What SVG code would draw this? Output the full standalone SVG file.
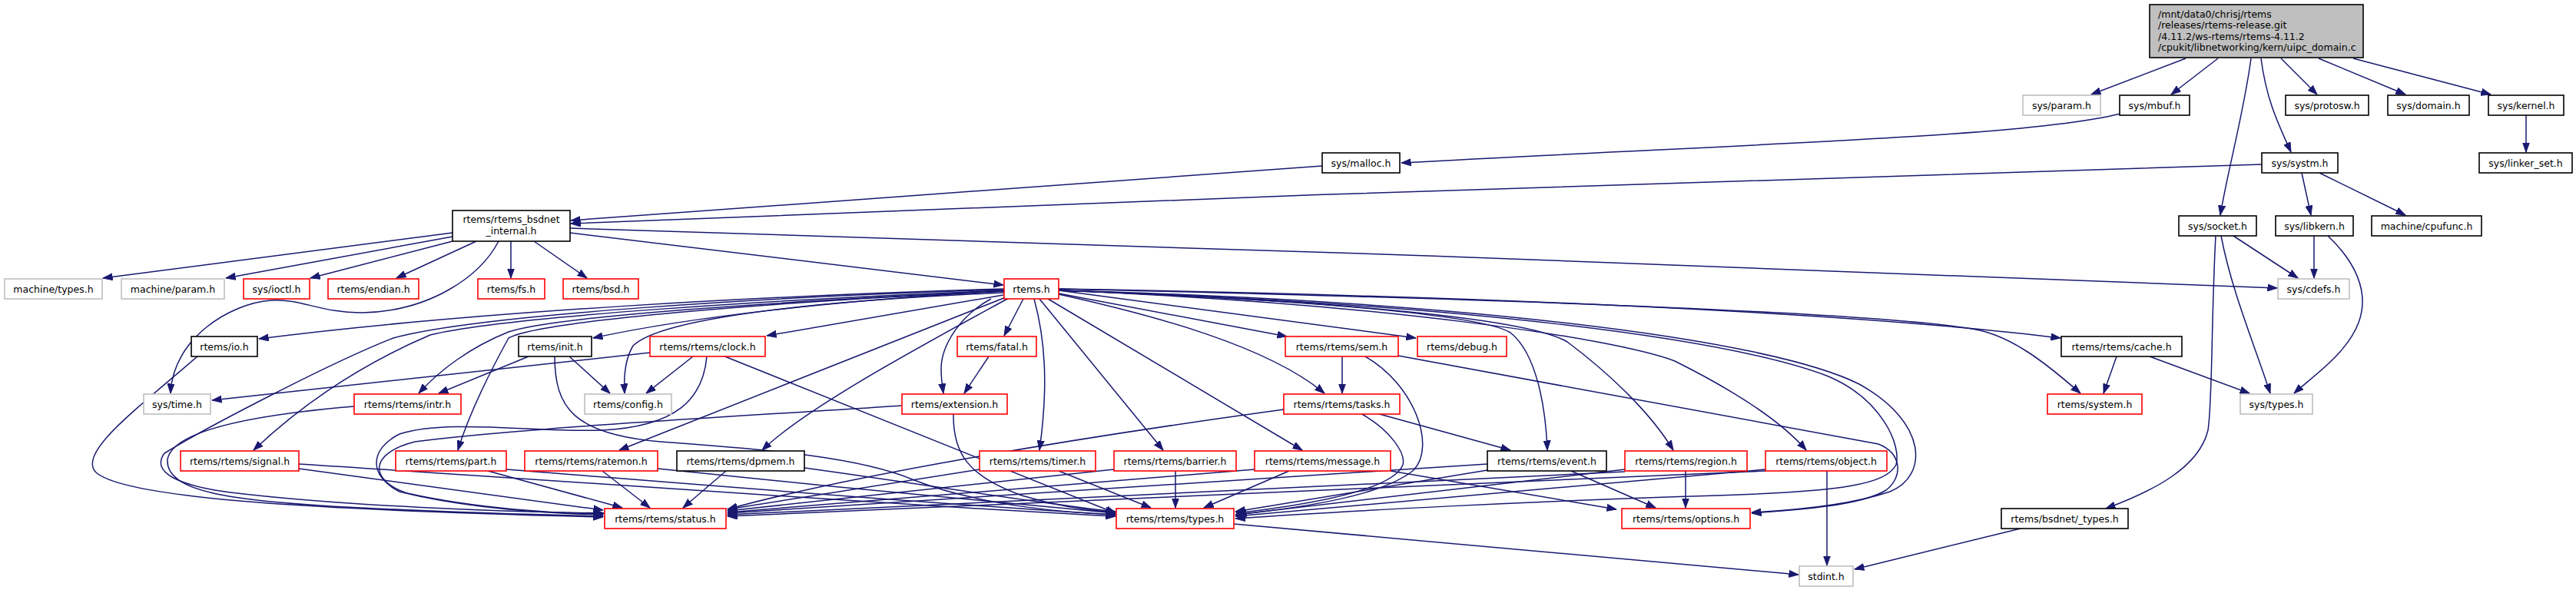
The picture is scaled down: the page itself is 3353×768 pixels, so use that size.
<svg xmlns="http://www.w3.org/2000/svg" width="3353" height="768" viewBox="0 0 3353 768">
<style>
rect{stroke-width:1.6}
.n rect{fill:#fff;stroke:#000}
.g rect{fill:#fff;stroke:#bfbfbf}
.r rect{fill:#fff;stroke:#ff0000}
.root rect{fill:#bfbfbf;stroke:#000}
text{font-family:"DejaVu Sans","Liberation Sans",sans-serif;font-size:12.5px;fill:#000;text-anchor:middle}
.root text{text-anchor:start}
#edges path{fill:none;stroke:#191970;stroke-width:1.5;marker-end:url(#ah)}
</style>
<defs>
<marker id="ah" markerUnits="userSpaceOnUse" markerWidth="13" markerHeight="10" viewBox="0 0 13 10" refX="12.5" refY="5" orient="auto">
<path d="M0,0.5 L12.5,5 L0,9.5 z" fill="#191970" stroke="#191970" stroke-width="1"/>
</marker>
</defs>
<rect width="3353" height="768" fill="#fff"/>
<g id="edges">
<path d="M2845,76 L2722,123"/>
<path d="M2887,76 L2826,123"/>
<path d="M2930,76 C2920,150 2900,220 2890,280"/>
<path d="M2943,76 C2950,130 2965,160 2982,198"/>
<path d="M2969,76 L3016,123"/>
<path d="M3018,76 L3131,123"/>
<path d="M3063,76 L3242,123"/>
<path d="M3288,150 L3288,198"/>
<path d="M2760,148 C2640,178 2300,186 1824,212"/>
<path d="M1721,216 L743,287"/>
<path d="M2944,214 C2400,230 1400,262 743,291"/>
<path d="M2996,225 L3008,280"/>
<path d="M3019,225 L3131,280"/>
<path d="M2907,307 L2991,362"/>
<path d="M3012,307 L3012,362"/>
<path d="M2891,307 C2905,380 2935,450 2955,512"/>
<path d="M3030,307 C3065,340 3085,380 3070,420 C3055,460 3010,490 2986,512"/>
<path d="M2884,307 C2878,420 2880,520 2874,560 C2862,610 2800,640 2741,662"/>
<path d="M2634,687 L2414,741"/>
<path d="M1606,682 L2341,748"/>
<path d="M2378,613 L2378,736"/>
<path d="M589,303 L134,362"/>
<path d="M589,308 L294,362"/>
<path d="M589,314 L404,362"/>
<path d="M620,314 L516,362"/>
<path d="M649,314 C625,360 560,405 472,407 C420,408 390,388 352,391 C300,395 225,440 222,512"/>
<path d="M665,314 L665,362"/>
<path d="M695,314 L764,362"/>
<path d="M742,303 L1306,371"/>
<path d="M742,297 C1400,318 2300,345 2964,375"/>
<path d="M1307,376 C1000,385 620,405 337,441"/>
<path d="M1307,379 C1100,390 900,412 772,440"/>
<path d="M1306,384 L998,437"/>
<path d="M1307,381 C1050,392 860,415 824,450 C812,470 812,495 813,512"/>
<path d="M1307,379 C1000,393 720,412 662,432 C612,452 572,482 545,512"/>
<path d="M1307,379 C1000,393 700,418 662,440 C640,480 610,540 596,586"/>
<path d="M1307,378 C1000,390 650,413 560,436 C480,470 400,520 330,586"/>
<path d="M1307,377 C1000,386 620,410 512,440 C430,472 262,560 214,590 C196,615 232,632 300,641 C450,659 650,666 786,668"/>
<path d="M1309,387 L806,586"/>
<path d="M1313,388 C1200,450 1050,530 992,586"/>
<path d="M1332,389 L1307,437"/>
<path d="M1290,389 C1250,410 1225,450 1225,480 C1225,495 1227,505 1228,512"/>
<path d="M1346,389 C1360,440 1365,500 1353,586"/>
<path d="M1353,389 L1514,586"/>
<path d="M1364,389 L1695,586"/>
<path d="M1378,383 C1500,410 1650,450 1724,512"/>
<path d="M1378,382 L1675,438"/>
<path d="M1378,378 L1843,440"/>
<path d="M1378,378 C1700,390 1930,410 1966,433 C2000,460 2012,530 2014,586"/>
<path d="M1378,378 C1750,392 1990,415 2040,445 C2100,490 2150,540 2178,586"/>
<path d="M1378,378 C1800,395 2100,440 2180,470 C2260,510 2320,550 2351,586"/>
<path d="M1378,378 C1900,392 2300,440 2420,500 C2510,550 2510,620 2460,640 C2400,660 2320,665 2280,667"/>
<path d="M1378,378 C1900,395 2250,440 2380,490 C2450,520 2475,580 2468,605 C2455,630 2400,640 2235,645 C2000,652 1750,665 1608,675"/>
<path d="M1378,376 C1900,385 2400,405 2682,440"/>
<path d="M1378,376 C1900,388 2450,405 2577,430 C2620,440 2660,470 2708,512"/>
<path d="M1747,464 L1747,512"/>
<path d="M1287,464 L1255,512"/>
<path d="M1792,538 L1966,586"/>
<path d="M1771,538 C1810,560 1830,590 1826,605 C1815,635 1720,655 1609,668"/>
<path d="M1777,464 C1840,500 1870,580 1840,612 C1800,645 1700,660 1610,670"/>
<path d="M1820,463 L2445,578 C2475,590 2478,620 2455,638 C2420,660 2320,665 2280,668"/>
<path d="M1671,533 C1400,570 1100,620 947,663"/>
<path d="M1378,613 L1498,661"/>
<path d="M1275,611 L947,663"/>
<path d="M1530,613 L1530,661"/>
<path d="M1450,611 L947,665"/>
<path d="M1678,613 L1567,661"/>
<path d="M1633,611 L947,667"/>
<path d="M1810,613 L2104,663"/>
<path d="M2045,613 L2155,661"/>
<path d="M1936,604 L947,668"/>
<path d="M1936,612 L1608,666"/>
<path d="M2194,613 L2194,661"/>
<path d="M2115,611 L1608,670"/>
<path d="M2115,614 L947,670"/>
<path d="M2298,611 L1608,672"/>
<path d="M2298,613 L947,672"/>
<path d="M389,610 L785,664"/>
<path d="M389,604 C800,630 1200,660 1452,672"/>
<path d="M635,613 L810,661"/>
<path d="M659,611 C900,630 1200,655 1452,670"/>
<path d="M784,613 L846,661"/>
<path d="M856,610 C1050,630 1300,655 1452,668"/>
<path d="M945,613 L889,661"/>
<path d="M1047,609 C1200,630 1350,655 1452,666"/>
<path d="M846,459 L276,521"/>
<path d="M902,464 L841,512"/>
<path d="M920,464 C915,520 880,555 784,560 C700,563 580,545 520,565 C480,585 480,620 520,640 C600,660 700,668 785,670"/>
<path d="M941,463 L1452,668"/>
<path d="M688,464 L571,512"/>
<path d="M741,464 L794,512"/>
<path d="M722,463 C722,530 745,565 860,575 C1000,585 1120,595 1190,625 C1280,660 1400,668 1452,670"/>
<path d="M258,463 C175,535 100,590 125,615 C165,650 420,664 785,673"/>
<path d="M461,529 C330,540 225,560 218,598 C215,640 300,652 450,660 C600,668 700,670 785,672"/>
<path d="M1173,528 C1000,540 700,555 540,575 C480,590 480,625 530,642 C620,662 720,668 785,669"/>
<path d="M1241,538 C1240,590 1260,620 1330,645 C1380,660 1420,665 1452,667"/>
<path d="M2755,464 L2738,512"/>
<path d="M2798,464 L2928,512"/>
</g>
<g id="root" class="root"><rect x="2798" y="6" width="278" height="69"/>
<text x="2809" y="22.5">/mnt/data0/chrisj/rtems</text>
<text x="2809" y="37">/releases/rtems-release.git</text>
<text x="2809" y="51.5">/4.11.2/ws-rtems/rtems-4.11.2</text>
<text x="2809" y="66">/cpukit/libnetworking/kern/uipc_domain.c</text></g>
<g id="sys_param" class="g"><rect x="2633" y="124" width="101" height="26"/><text x="2683.5" y="141.5">sys/param.h</text></g>
<g id="sys_mbuf" class="n"><rect x="2759" y="124" width="91" height="26"/><text x="2804.5" y="141.5">sys/mbuf.h</text></g>
<g id="sys_protosw" class="n"><rect x="2975" y="124" width="108" height="26"/><text x="3029" y="141.5">sys/protosw.h</text></g>
<g id="sys_domain" class="n"><rect x="3108" y="124" width="106" height="26"/><text x="3161" y="141.5">sys/domain.h</text></g>
<g id="sys_kernel" class="n"><rect x="3239" y="124" width="98" height="26"/><text x="3288" y="141.5">sys/kernel.h</text></g>
<g id="sys_linker_set" class="n"><rect x="3227" y="199" width="121" height="26"/><text x="3287.5" y="216.5">sys/linker_set.h</text></g>
<g id="sys_systm" class="n"><rect x="2944" y="199" width="99" height="26"/><text x="2993.5" y="216.5">sys/systm.h</text></g>
<g id="sys_malloc" class="n"><rect x="1721" y="199" width="101" height="26"/><text x="1771.5" y="216.5">sys/malloc.h</text></g>
<g id="bsdnet_internal" class="n"><rect x="589" y="274" width="153" height="40"/><text x="665.5" y="290">rtems/rtems_bsdnet</text><text x="665.5" y="305">_internal.h</text></g>
<g id="sys_socket" class="n"><rect x="2836" y="281" width="101" height="26"/><text x="2886.5" y="298.5">sys/socket.h</text></g>
<g id="sys_libkern" class="n"><rect x="2962" y="281" width="101" height="26"/><text x="3012.5" y="298.5">sys/libkern.h</text></g>
<g id="machine_cpufunc" class="n"><rect x="3087" y="281" width="143" height="26"/><text x="3158.5" y="298.5">machine/cpufunc.h</text></g>
<g id="machine_types" class="g"><rect x="6" y="363" width="127" height="26"/><text x="69.5" y="380.5">machine/types.h</text></g>
<g id="machine_param" class="g"><rect x="158" y="363" width="134" height="26"/><text x="225" y="380.5">machine/param.h</text></g>
<g id="sys_ioctl" class="r"><rect x="317" y="363" width="86" height="26"/><text x="360" y="380.5">sys/ioctl.h</text></g>
<g id="rtems_endian" class="r"><rect x="427" y="363" width="118" height="26"/><text x="486" y="380.5">rtems/endian.h</text></g>
<g id="rtems_fs" class="r"><rect x="622" y="363" width="87" height="26"/><text x="665.5" y="380.5">rtems/fs.h</text></g>
<g id="rtems_bsd" class="r"><rect x="733" y="363" width="98" height="26"/><text x="782" y="380.5">rtems/bsd.h</text></g>
<g id="rtems_h" class="r"><rect x="1307" y="363" width="71" height="26"/><text x="1342.5" y="380.5">rtems.h</text></g>
<g id="sys_cdefs" class="g"><rect x="2965" y="363" width="93" height="26"/><text x="3011.5" y="380.5">sys/cdefs.h</text></g>
<g id="rtems_io" class="n"><rect x="249" y="438" width="86" height="26"/><text x="292" y="455.5">rtems/io.h</text></g>
<g id="rtems_init" class="n"><rect x="675" y="438" width="95" height="26"/><text x="722.5" y="455.5">rtems/init.h</text></g>
<g id="rtems_clock" class="r"><rect x="846" y="438" width="150" height="26"/><text x="921" y="455.5">rtems/rtems/clock.h</text></g>
<g id="rtems_fatal" class="r"><rect x="1246" y="438" width="103" height="26"/><text x="1297.5" y="455.5">rtems/fatal.h</text></g>
<g id="rtems_sem" class="r"><rect x="1673" y="438" width="147" height="26"/><text x="1746.5" y="455.5">rtems/rtems/sem.h</text></g>
<g id="rtems_debug" class="r"><rect x="1845" y="438" width="116" height="26"/><text x="1903" y="455.5">rtems/debug.h</text></g>
<g id="rtems_cache" class="n"><rect x="2683" y="438" width="157" height="26"/><text x="2761.5" y="455.5">rtems/rtems/cache.h</text></g>
<g id="sys_time" class="g"><rect x="187" y="513" width="87" height="26"/><text x="230.5" y="530.5">sys/time.h</text></g>
<g id="rtems_intr" class="r"><rect x="461" y="513" width="139" height="26"/><text x="530.5" y="530.5">rtems/rtems/intr.h</text></g>
<g id="rtems_config" class="g"><rect x="761" y="513" width="113" height="26"/><text x="817.5" y="530.5">rtems/config.h</text></g>
<g id="rtems_extension" class="r"><rect x="1174" y="513" width="137" height="26"/><text x="1242.5" y="530.5">rtems/extension.h</text></g>
<g id="rtems_tasks" class="r"><rect x="1671" y="513" width="151" height="26"/><text x="1746.5" y="530.5">rtems/rtems/tasks.h</text></g>
<g id="rtems_system" class="r"><rect x="2665" y="513" width="123" height="26"/><text x="2726.5" y="530.5">rtems/system.h</text></g>
<g id="sys_types" class="g"><rect x="2916" y="513" width="94" height="26"/><text x="2963" y="530.5">sys/types.h</text></g>
<g id="rtems_signal" class="r"><rect x="235" y="587" width="154" height="26"/><text x="312" y="604.5">rtems/rtems/signal.h</text></g>
<g id="rtems_part" class="r"><rect x="515" y="587" width="144" height="26"/><text x="587" y="604.5">rtems/rtems/part.h</text></g>
<g id="rtems_ratemon" class="r"><rect x="683" y="587" width="173" height="26"/><text x="769.5" y="604.5">rtems/rtems/ratemon.h</text></g>
<g id="rtems_dpmem" class="n"><rect x="881" y="587" width="166" height="26"/><text x="964" y="604.5">rtems/rtems/dpmem.h</text></g>
<g id="rtems_timer" class="r"><rect x="1275" y="587" width="151" height="26"/><text x="1350.5" y="604.5">rtems/rtems/timer.h</text></g>
<g id="rtems_barrier" class="r"><rect x="1450" y="587" width="159" height="26"/><text x="1529.5" y="604.5">rtems/rtems/barrier.h</text></g>
<g id="rtems_message" class="r"><rect x="1633" y="587" width="177" height="26"/><text x="1721.5" y="604.5">rtems/rtems/message.h</text></g>
<g id="rtems_event" class="n"><rect x="1936" y="587" width="155" height="26"/><text x="2013.5" y="604.5">rtems/rtems/event.h</text></g>
<g id="rtems_region" class="r"><rect x="2115" y="587" width="159" height="26"/><text x="2194.5" y="604.5">rtems/rtems/region.h</text></g>
<g id="rtems_object" class="r"><rect x="2298" y="587" width="158" height="26"/><text x="2377" y="604.5">rtems/rtems/object.h</text></g>
<g id="rtems_status" class="r"><rect x="787" y="662" width="158" height="26"/><text x="866" y="679.5">rtems/rtems/status.h</text></g>
<g id="rtems_types" class="r"><rect x="1453" y="662" width="153" height="26"/><text x="1529.5" y="679.5">rtems/rtems/types.h</text></g>
<g id="rtems_options" class="r"><rect x="2111" y="662" width="167" height="26"/><text x="2194.5" y="679.5">rtems/rtems/options.h</text></g>
<g id="bsdnet_types" class="n"><rect x="2605" y="662" width="165" height="26"/><text x="2687.5" y="679.5">rtems/bsdnet/_types.h</text></g>
<g id="stdint" class="g"><rect x="2342" y="737" width="70" height="26"/><text x="2377" y="754.5">stdint.h</text></g>
</svg>
